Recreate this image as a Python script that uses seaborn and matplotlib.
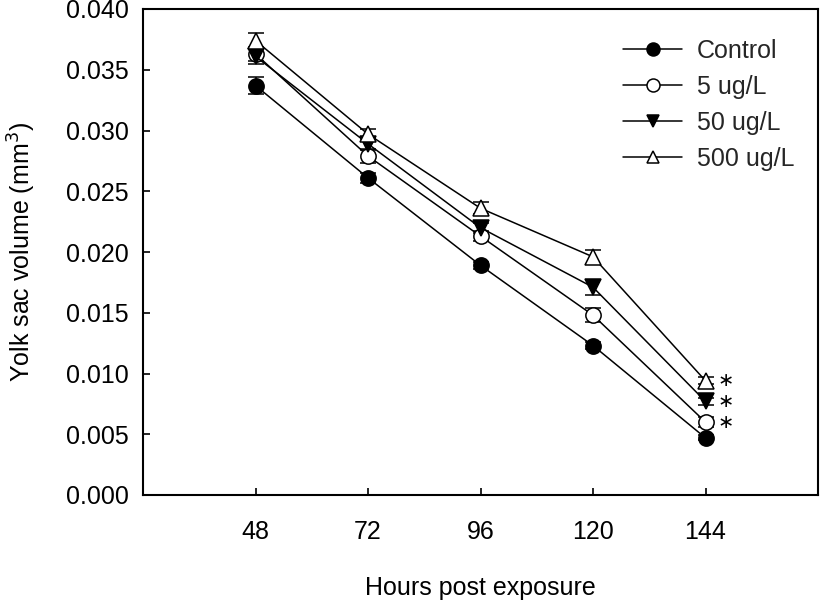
import matplotlib
matplotlib.use("Agg")
import matplotlib.pyplot as plt
import seaborn as sns
import pandas as pd

hours = [48, 72, 96, 120, 144]
groups = ["Control", "5 ug/L", "50 ug/L", "500 ug/L"]
control = [0.0337, 0.0261, 0.0189, 0.0123, 0.0047]
control_err = [0.0007, 0.0004, 0.0003, 0.0003, 0.0002]
ug5 = [0.0363, 0.0279, 0.0213, 0.0148, 0.0060]
ug5_err = [0.0006, 0.0006, 0.0004, 0.0006, 0.0004]
ug50 = [0.0361, 0.0289, 0.0220, 0.0171, 0.0077]
ug50_err = [0.0006, 0.0005, 0.0004, 0.0006, 0.0003]
ug500 = [0.0374, 0.0297, 0.0236, 0.0196, 0.0094]
ug500_err = [0.0006, 0.0004, 0.0005, 0.0006, 0.0003]
significant = ["5 ug/L", "50 ug/L", "500 ug/L"]

values = [control, ug5, ug50, ug500]
errors = [control_err, ug5_err, ug50_err, ug500_err]
markers = ["o", "o", "v", "^"]
faces = ["black", "white", "black", "white"]

sns.set_style("ticks")
plt.rcParams["font.family"] = ["Liberation Sans", "DejaVu Sans"]

fig = plt.figure(figsize=(8.21, 6.03), dpi=100)
ax = fig.add_axes([143 / 821, 1 - 495 / 603, (818 - 143) / 821, (495 - 9) / 603])

for g, v, e, m, fc in zip(groups, values, errors, markers, faces):
    df = pd.DataFrame({"Hours": hours, "Volume": v})
    ax.errorbar(hours, v, yerr=e, fmt="none", ecolor="black", elinewidth=1.1,
                capsize=5.5, capthick=1.1, zorder=2)
    sns.lineplot(data=df, x="Hours", y="Volume", ax=ax, color="black",
                 linewidth=1.1, marker=m, markersize=11, markerfacecolor=fc,
                 markeredgecolor="black", markeredgewidth=1.1, label=g, zorder=3)

for g, v in zip(groups, values):
    if g in significant:
        ax.annotate("\u2217", xy=(hours[-1], v[-1]), xytext=(14.5, 0),
                    textcoords="offset points", fontsize=14, ha="center",
                    va="center", color="black",
                    family=["DejaVu Sans"])

ax.set_xlim(24, 168)
ax.set_ylim(0, 0.040)
ax.set_xticks(hours)
ax.set_yticks([0.000, 0.005, 0.010, 0.015, 0.020, 0.025, 0.030, 0.035, 0.040])
ax.set_yticklabels([f"{t:.3f}" for t in ax.get_yticks()])
ax.tick_params(direction="in", length=5, width=1.2, labelsize=18, color="black",
               labelcolor="black")
ax.tick_params(axis="x", pad=18)
ax.tick_params(axis="y", pad=10)
for s in ax.spines.values():
    s.set_visible(True)
    s.set_color("black")
    s.set_linewidth(1.5)

ax.set_xlabel("Hours post exposure", fontsize=18, labelpad=23, color="black")
ax.set_ylabel("Yolk sac volume (mm$^3$)", fontsize=18, labelpad=20, color="black")

leg = ax.legend(loc="upper left", bbox_to_anchor=((623 - 143) / 675, (495 - 39) / 486),
                frameon=False, borderpad=0, borderaxespad=0,
                fontsize=18, handlelength=2.36, labelspacing=0.48, markerscale=0.85,
                handletextpad=0.6)

fig.savefig("out.png", dpi=100)
